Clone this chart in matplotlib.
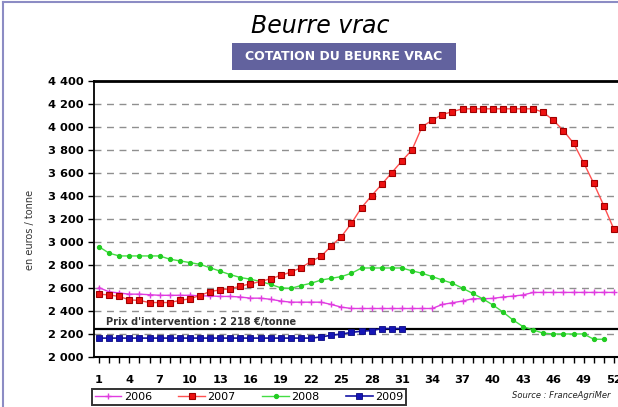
import numpy as np
import matplotlib
matplotlib.use('Agg')
import matplotlib.pyplot as plt
from matplotlib.patches import Rectangle
from matplotlib.lines import Line2D

plt.rcParams['font.family'] = ['DejaVu Sans']

# weekly quotations, euros / tonne
weeks = np.arange(1, 53)
prix_2006 = [2602, 2565, 2555, 2545, 2545, 2540, 2535, 2535, 2535, 2535,
             2530, 2530, 2525, 2525, 2520, 2510, 2510, 2500, 2485, 2475,
             2475, 2475, 2475, 2455, 2432, 2420, 2420, 2420, 2420, 2420,
             2420, 2420, 2420, 2420, 2455, 2470, 2485, 2505, 2505, 2508,
             2520, 2528, 2538, 2560, 2560, 2560, 2560, 2560, 2560, 2560,
             2560, 2560]
prix_2007 = [2545, 2538, 2525, 2495, 2490, 2472, 2472, 2472, 2490, 2505,
             2533, 2568, 2582, 2592, 2615, 2635, 2655, 2680, 2708, 2737,
             2775, 2830, 2875, 2965, 3046, 3163, 3299, 3403, 3502, 3604,
             3706, 3802, 4005, 4060, 4110, 4135, 4160, 4160, 4160, 4160,
             4160, 4160, 4160, 4160, 4130, 4060, 3970, 3860, 3690, 3510,
             3315, 3110]
prix_2008 = [2958, 2902, 2878, 2878, 2878, 2878, 2878, 2850, 2835, 2820,
             2805, 2775, 2745, 2715, 2690, 2675, 2655, 2630, 2600, 2595,
             2620, 2640, 2668, 2683, 2698, 2727, 2773, 2773, 2773, 2773,
             2773, 2748, 2727, 2698, 2668, 2640, 2597, 2552, 2505, 2451,
             2390, 2320, 2262, 2233, 2205, 2198, 2198, 2198, 2198, 2152,
             2152]
prix_2009 = [2162] * 22 + [2172, 2187, 2197, 2212, 2222, 2228, 2245, 2245, 2245]
intervention = 2245
intervention_txt = "Prix d'intervention : 2 218 €/tonne"
yticks = np.arange(2000, 4401, 200)
xticks = np.arange(1, 53, 3)

fig = plt.figure(figsize=(6.18, 4.07), dpi=100)
ax = fig.add_axes([0.1521, 0.1236, 0.8495, 0.6767])

for y in yticks[1:-1]:
    ax.axhline(y, color='#8f8f8f', lw=1.0, dashes=(5, 4), zorder=1)
ax.axhline(intervention, color='black', lw=1.6, zorder=2)
ax.text(1.7, 2305, intervention_txt, fontsize=7, fontweight='bold',
        color='#333333', va='center', ha='left')

l06, = ax.plot(weeks[:len(prix_2006)], prix_2006, color='#e03ce0', lw=1,
               marker='+', ms=5, mew=1, zorder=3)
l07, = ax.plot(weeks[:len(prix_2007)], prix_2007, color='#ff5050', lw=1,
               marker='s', ms=5, mfc='#ee1111', mec='#a00000', mew=0.8, zorder=4)
l08, = ax.plot(weeks[:len(prix_2008)], prix_2008, color='#44dd44', lw=1,
               marker='o', ms=2.8, mfc='#22cc22', mec='#22cc22', zorder=3)
l09, = ax.plot(weeks[:len(prix_2009)], prix_2009, color='#1515a5', lw=1.2,
               marker='s', ms=4.5, mfc='#1515b5', mec='#0a0a80', mew=0.6, zorder=4)

ax.set_xlim(0.5, 52.5)
ax.set_ylim(2000, 4400)
ax.set_yticks(yticks)
ax.set_yticklabels([f'{v // 1000} {v % 1000:03d}' for v in yticks])
ax.set_xticks(xticks)
ax.set_xticks(weeks, minor=True)
ax.tick_params(axis='both', which='both', direction='out', length=4, width=1,
               labelsize=8.2, colors='black')
ax.tick_params(axis='x', pad=9)
for lab in ax.get_xticklabels() + ax.get_yticklabels():
    lab.set_fontweight('bold')

ax.spines['right'].set_visible(False)
ax.spines['top'].set_linewidth(2)
ax.spines['left'].set_linewidth(1.3)
ax.spines['bottom'].set_linewidth(1.5)

fig.text(30 / 618, 1 - 230 / 407, 'en euros / tonne', rotation=90,
         fontsize=7, color='#333333', ha='center', va='center')

fig.text(320 / 618, 1 - 33 / 407, 'Beurre vrac', fontsize=17, style='italic',
         ha='center', va='baseline', color='black')
fig.add_artist(Rectangle((232 / 618, 1 - 70 / 407), 224 / 618, 27 / 407,
                         transform=fig.transFigure, facecolor='#62629e',
                         edgecolor='none'))
fig.text(344 / 618, 1 - 56.5 / 407, 'COTATION DU BEURRE VRAC', fontsize=9,
         fontweight='bold', color='white', ha='center', va='center')

fig.text(610 / 618, 1 - 395 / 407, 'Source : FranceAgriMer', fontsize=6,
         style='italic', ha='right', va='center', color='#222222')

leg = fig.legend([l06, l07, l08, l09], ['2006', '2007', '2008', '2009'],
                 loc='lower left', bbox_to_anchor=(92 / 618, 2 / 407),
                 ncol=4, fontsize=8, frameon=True, fancybox=False,
                 borderpad=0.25, handlelength=2.4, handletextpad=0.2,
                 columnspacing=2.4, borderaxespad=0)
leg.get_frame().set_edgecolor('black')
leg.get_frame().set_linewidth(1.4)

# outer frame of the original panel
fig.add_artist(Line2D([3 / 618, 3 / 618], [0, 1 - 2 / 407],
                      transform=fig.transFigure, color='#8c8cc4', lw=1.5))
fig.add_artist(Line2D([3 / 618, 1], [1 - 2 / 407, 1 - 2 / 407],
                      transform=fig.transFigure, color='#8c8cc4', lw=1.5))

fig.savefig('out.png', dpi=100)
